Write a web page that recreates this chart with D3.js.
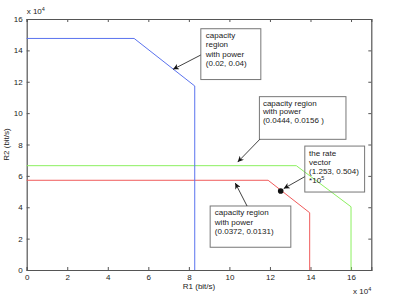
<!DOCTYPE html>
<html>
<head>
<meta charset="utf-8">
<script src="https://cdn.jsdelivr.net/npm/d3@7"></script>
<style>
  body { margin: 0; background: #fff; }
  svg { display: block; font-family: "Liberation Sans", Arial, sans-serif; }
  .tick text { font-size: 8px; fill: #222; }
  .box rect { fill: none; stroke: #777; stroke-width: 1; }
  .box text { font-size: 8px; fill: #222; }
</style>
</head>
<body>
<svg id="chart" width="399" height="295"></svg>
<script>
// all rates in units of 1e4 bit/s
var xTicks = [0, 2, 4, 6, 8, 10, 12, 14, 16];
var yTicks = [0, 2, 4, 6, 8, 10, 12, 14, 16];

// capacity regions (boundary corners)
var bluePts  = [[0, 14.76], [5.30, 14.76], [8.29, 11.73], [8.29, 0]];
var greenPts = [[0, 6.65], [13.30, 6.65], [16.00, 4.03], [16.00, 0]];
var redPts   = [[0, 5.72], [11.91, 5.72], [13.96, 3.65], [13.96, 0]];

// the rate vector (1.253, 0.504)*10^5
var ratePoint = [12.53, 5.04];

// annotation texts
var note1 = ["capacity", "region", "with power", "(0.02, 0.04)"];
var note2 = ["capacity region", "with power", "(0.0444, 0.0156 )"];
var note3 = ["the rate", "vector", "(1.253, 0.504)", "*10"];
var note4 = ["capacity region", "with power", "(0.0372, 0.0131)"];

var svg = d3.select("#chart");
var axLeft = 26.7, axRight = 371.3, axTop = 19, axBottom = 270;

var x = d3.scaleLinear().domain([0, 17]).range([axLeft, axRight]);
var y = d3.scaleLinear().domain([0, 16]).range([axBottom, axTop]);

// axes, matlab style (ticks inside, box on)
var gx = svg.append("g").attr("transform", "translate(0," + axBottom + ")")
  .call(d3.axisBottom(x).tickValues(xTicks).tickSize(-3).tickPadding(6));
var gy = svg.append("g").attr("transform", "translate(" + axLeft + ",0)")
  .call(d3.axisLeft(y).tickValues(yTicks).tickSize(-3).tickPadding(4));
var gt = svg.append("g").attr("transform", "translate(0," + axTop + ")")
  .call(d3.axisTop(x).tickValues(xTicks).tickSize(-3).tickFormat(""));
var gr = svg.append("g").attr("transform", "translate(" + axRight + ",0)")
  .call(d3.axisRight(y).tickValues(yTicks).tickSize(-3).tickFormat(""));
[gx, gy, gt, gr].forEach(function (g) {
  g.select(".domain").attr("stroke", "#555").attr("stroke-width", 1.2);
  g.selectAll(".tick line").attr("stroke", "#555");
});
gx.selectAll(".tick text").attr("dy", "0.55em");

// exponent labels
var e1 = svg.append("text").attr("x", x(0)).attr("y", 14).attr("font-size", 8).attr("fill", "#222");
e1.append("tspan").text("x 10");
e1.append("tspan").attr("font-size", 5.5).attr("dy", -3).text("4");
var e2 = svg.append("text").attr("x", 353).attr("y", 294).attr("font-size", 8).attr("fill", "#222");
e2.append("tspan").text("x 10");
e2.append("tspan").attr("font-size", 5.5).attr("dy", -3).text("4");

// axis labels
svg.append("text").attr("x", (axLeft + axRight) / 2).attr("y", 289)
  .attr("text-anchor", "middle").attr("font-size", 8).attr("fill", "#222").text("R1 (bit/s)");
svg.append("text").attr("transform", "translate(9," + ((axTop + axBottom) / 2) + ") rotate(-90)")
  .attr("text-anchor", "middle").attr("font-size", 8).attr("fill", "#222").text("R2 (bit/s)");

// curves
var line = d3.line().x(function (d) { return x(d[0]); }).y(function (d) { return y(d[1]); });
svg.append("path").datum(greenPts).attr("d", line).attr("fill", "none").attr("stroke", "#8cf060").attr("stroke-width", 1);
svg.append("path").datum(redPts).attr("d", line).attr("fill", "none").attr("stroke", "#f05a5a").attr("stroke-width", 1);
svg.append("path").datum(bluePts).attr("d", line).attr("fill", "none").attr("stroke", "#5a72ee").attr("stroke-width", 1);

svg.append("circle").attr("cx", x(ratePoint[0])).attr("cy", y(ratePoint[1])).attr("r", 2.8).attr("fill", "#111");

// arrowhead
svg.append("defs").append("marker").attr("id", "head")
  .attr("viewBox", "0 0 10 10").attr("refX", 10).attr("refY", 5)
  .attr("markerWidth", 8).attr("markerHeight", 6).attr("markerUnits", "userSpaceOnUse")
  .attr("orient", "auto")
  .append("path").attr("d", "M0,0 L10,5 L0,10 L3,5 Z").attr("fill", "#111");

// annotation boxes, in data units: [x0, y0 (top), x1, y1 (bottom)]
function note(lines, b, tx, gap) {
  var g = svg.append("g").attr("class", "box");
  g.append("rect").attr("x", x(b[0])).attr("y", y(b[1]))
    .attr("width", x(b[2]) - x(b[0])).attr("height", y(b[3]) - y(b[1]));
  var t = g.append("text").attr("x", x(b[0]) + tx).attr("y", y(b[1]) + 9.5);
  lines.forEach(function (s, i) {
    t.append("tspan").attr("x", x(b[0]) + tx).attr("dy", i === 0 ? 0 : gap).text(s);
  });
  return t;
}
function arrow(a, b) {
  svg.append("line").attr("x1", x(a[0])).attr("y1", y(a[1]))
    .attr("x2", x(b[0])).attr("y2", y(b[1]))
    .attr("stroke", "#111").attr("stroke-width", 0.8).attr("marker-end", "url(#head)");
}

note(note1, [8.59, 15.38, 11.55, 12.14], 5, 9.2);
arrow([8.58, 13.70], [7.22, 12.79]);

note(note2, [11.48, 11.05, 15.75, 8.33], 3.5, 8.3);
arrow([11.50, 8.33], [10.41, 6.88]);

var t3 = note(note3, [13.72, 7.90, 16.67, 4.97], 4.3, 9.3);
t3.append("tspan").attr("font-size", 5.5).attr("dy", -3).text("5");
arrow([13.72, 5.95], [12.68, 5.19]);

note(note4, [9.05, 4.08, 13.03, 1.45], 4.7, 9.4);
arrow([10.87, 4.08], [10.29, 5.54]);
</script>
</body>
</html>
